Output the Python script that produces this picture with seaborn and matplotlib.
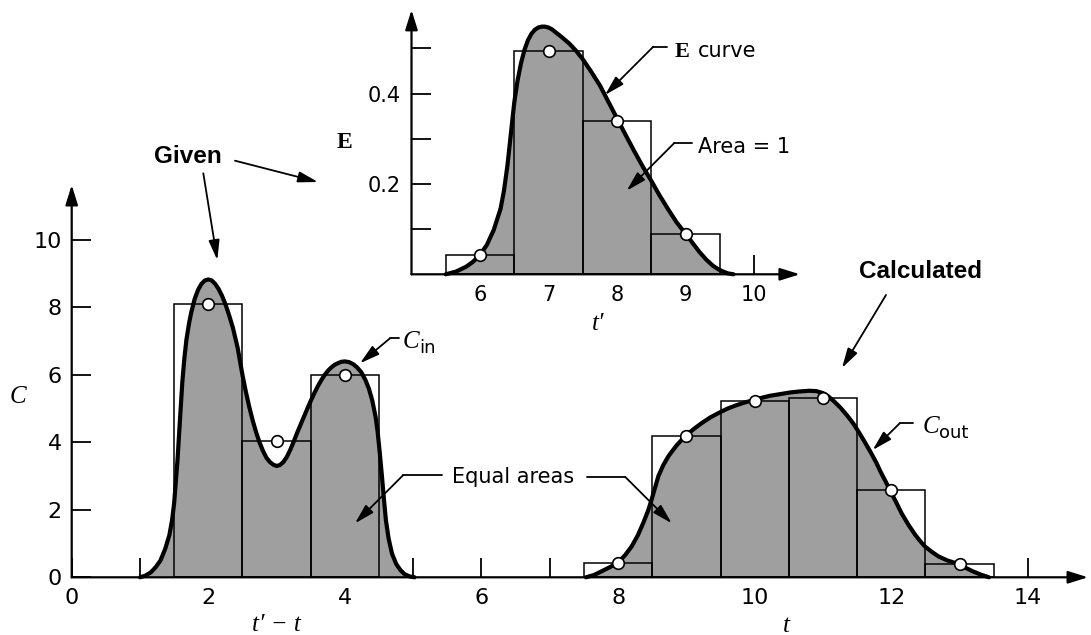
import matplotlib
matplotlib.use("Agg")
import matplotlib.pyplot as plt
import seaborn as sns
from matplotlib.lines import Line2D
from matplotlib.patches import FancyArrowPatch
from matplotlib import font_manager as fm

# ---------------- data ----------------
cin_t = [2, 3, 4]
cin_vals = [8.1, 4.05, 6.0]
e_t = [6, 7, 8, 9]
e_vals = [0.043, 0.494, 0.340, 0.089]
cout_t = [8, 9, 10, 11, 12, 13]
cout_vals = [0.42, 4.2, 5.22, 5.32, 2.58, 0.40]

cin_curve_x = [1.0, 1.08, 1.16, 1.23, 1.3, 1.37, 1.43, 1.47, 1.5, 1.55, 1.58, 1.62, 1.65,
               1.68, 1.72, 1.75, 1.8, 1.85, 1.9, 1.95, 2.0, 2.05, 2.1, 2.15, 2.2, 2.25,
               2.3, 2.36, 2.43, 2.5, 2.55, 2.6, 2.65, 2.7, 2.75, 2.8, 2.85, 2.9, 2.95,
               3.0, 3.05, 3.1, 3.15, 3.2, 3.25, 3.3, 3.35, 3.4, 3.45, 3.5, 3.55, 3.6,
               3.65, 3.7, 3.75, 3.8, 3.85, 3.9, 3.95, 4.0, 4.06, 4.12, 4.18, 4.24, 4.3,
               4.35, 4.4, 4.45, 4.48, 4.51, 4.54, 4.57, 4.6, 4.64, 4.69, 4.75, 4.81,
               4.87, 4.94, 5.02]
cin_curve_y = [0.0, 0.05, 0.15, 0.3, 0.5, 0.85, 1.25, 1.7, 2.2, 3.5, 4.5, 5.8, 6.5,
               7.05, 7.55, 7.85, 8.25, 8.52, 8.7, 8.8, 8.83, 8.8, 8.7, 8.55, 8.35, 8.1,
               7.8, 7.4, 6.8, 6.0, 5.5, 5.05, 4.65, 4.3, 4.0, 3.75, 3.55, 3.42, 3.34,
               3.3, 3.33, 3.42, 3.57, 3.78, 4.02, 4.28, 4.52, 4.76, 5.0, 5.23, 5.45, 5.65,
               5.83, 5.99, 6.12, 6.22, 6.3, 6.35, 6.39, 6.4, 6.38, 6.32, 6.22, 6.08,
               5.85, 5.6, 5.25, 4.75, 4.3, 3.7, 3.05, 2.35, 1.7, 1.15, 0.7, 0.4, 0.22,
               0.1, 0.03, 0.0]

e_curve_x = [5.5, 5.65, 5.8, 5.9, 6.0, 6.1, 6.2, 6.3, 6.35, 6.4, 6.45, 6.5, 6.55, 6.6,
             6.65, 6.7, 6.75, 6.8, 6.85, 6.9, 6.95, 7.0, 7.05, 7.1, 7.2, 7.3, 7.4, 7.5,
             7.62, 7.75, 7.87, 8.0, 8.12, 8.25, 8.37, 8.5, 8.62, 8.75, 8.87, 9.0, 9.1,
             9.2, 9.3, 9.4, 9.48, 9.55, 9.62, 9.7]
e_curve_y = [0.0, 0.006, 0.017, 0.028, 0.043, 0.065, 0.098, 0.145, 0.185, 0.24, 0.31,
             0.38, 0.43, 0.468, 0.497, 0.518, 0.532, 0.541, 0.546, 0.548, 0.548, 0.546,
             0.542, 0.536, 0.524, 0.511, 0.495, 0.476, 0.449, 0.418, 0.383, 0.345, 0.31,
             0.273, 0.24, 0.207, 0.175, 0.143, 0.115, 0.09, 0.07, 0.05, 0.033, 0.019,
             0.011, 0.006, 0.002, 0.0]

cout_curve_x = [7.53, 7.65, 7.75, 7.88, 8.0, 8.1, 8.2, 8.29, 8.37, 8.44, 8.49, 8.54,
                8.59, 8.66, 8.74, 8.86, 8.99, 9.11, 9.23, 9.35, 9.48, 9.6, 9.73, 9.85,
                9.98, 10.1, 10.22, 10.37, 10.52, 10.66, 10.8, 10.9, 11.0, 11.08, 11.16,
                11.26, 11.36, 11.44, 11.51, 11.6, 11.7, 11.78, 11.85, 11.92, 11.98,
                12.07, 12.15, 12.25, 12.35, 12.42, 12.49, 12.59, 12.69, 12.82, 12.96,
                13.07, 13.19, 13.31, 13.43]
cout_curve_y = [0.0, 0.07, 0.17, 0.3, 0.44, 0.65, 0.92, 1.25, 1.62, 1.98, 2.3, 2.65,
                3.0, 3.32, 3.6, 3.92, 4.2, 4.4, 4.58, 4.74, 4.88, 5.0, 5.1, 5.18,
                5.25, 5.32, 5.38, 5.43, 5.48, 5.51, 5.53, 5.52, 5.46, 5.36, 5.22,
                5.02, 4.78, 4.57, 4.35, 4.05, 3.7, 3.4, 3.1, 2.83, 2.58,
                2.23, 1.9, 1.56, 1.26, 1.08, 0.92, 0.76, 0.62, 0.5, 0.41,
                0.3, 0.18, 0.08, 0.0]

main_xticks = [0, 2, 4, 6, 8, 10, 12, 14]
main_xminor = [1, 3, 5, 7, 9, 11, 13]
main_yticks = [0, 2, 4, 6, 8, 10]
inset_xticks = [6, 7, 8, 9, 10]
inset_yticks = [0.1, 0.2, 0.3, 0.4, 0.5]
inset_ylabels = ["", "0.2", "", "0.4", ""]

# ---------------- style ----------------
sns.set_theme(style="white")
plt.rcParams["font.family"] = ["DejaVu Sans"]
plt.rcParams["text.color"] = "black"
plt.rcParams["axes.labelcolor"] = "black"
plt.rcParams["xtick.color"] = "black"
plt.rcParams["ytick.color"] = "black"

W, H = 1091, 635
FILL = "#9f9f9f"
SERIF = ["Liberation Serif", "DejaVu Serif"]

names = {f.name for f in fm.fontManager.ttflist}
if "Liberation Sans Narrow" in names:
    NARROW, NSIZE = "Liberation Sans Narrow", 20.5
else:
    NARROW, NSIZE = "Liberation Sans", 17.5

fig = plt.figure(figsize=(W / 100, H / 100), dpi=100)


def fx(x, y):
    return (x / W, 1 - y / H)


def axis_arrows(ax):
    for s in ax.spines.values():
        s.set_visible(False)
    style = "-|>,head_length=0.8,head_width=0.25"
    ax.annotate("", xy=(1, 0), xytext=(0, 0), xycoords="axes fraction",
                arrowprops=dict(arrowstyle=style, color="black", lw=1.6,
                                shrinkA=0, shrinkB=0, mutation_scale=15))
    ax.annotate("", xy=(0, 1), xytext=(0, 0), xycoords="axes fraction",
                arrowprops=dict(arrowstyle=style, color="black", lw=1.6,
                                shrinkA=0, shrinkB=0, mutation_scale=15))


def draw_series(ax, cx, cy, bt, bv):
    ax.fill_between(cx, cy, 0, color=FILL, lw=0, zorder=1)
    ax.bar(bt, bv, width=1.0, fill=False, edgecolor="black", linewidth=1.1, zorder=2)
    sns.lineplot(x=cx, y=cy, ax=ax, color="black", lw=3.0, zorder=3,
                 clip_on=False, solid_capstyle="round", solid_joinstyle="round")
    sns.scatterplot(x=bt, y=bv, ax=ax, s=70, color="white", edgecolor="black",
                    linewidth=1.2, zorder=4, clip_on=False)


# ---------------- main axes ----------------
ax = fig.add_axes([71.7 / W, (H - 577.3) / H, 1016.3 / W, 392.3 / H])
ax.patch.set_alpha(0)
draw_series(ax, cin_curve_x, cin_curve_y, cin_t, cin_vals)
draw_series(ax, cout_curve_x, cout_curve_y, cout_t, cout_vals)
ax.set_xlim(0, 14.88)
ax.set_ylim(0, 11.63)
ax.set_xticks(main_xticks)
ax.set_xticks(main_xminor, minor=True)
ax.set_yticks(main_yticks)
ax.tick_params(axis="both", which="both", direction="in", length=13.7, width=1.3,
               bottom=True, left=True, colors="black")
ax.tick_params(axis="x", which="major", pad=8, labelsize=16)
ax.tick_params(axis="y", which="major", pad=7, labelsize=16)
ax.set_xlabel("")
ax.set_ylabel("")
axis_arrows(ax)

# ---------------- inset axes ----------------
ins = fig.add_axes([411.5 / W, (H - 274.3) / H, 388.4 / W, 264.4 / H])
ins.patch.set_alpha(0)
draw_series(ins, e_curve_x, e_curve_y, e_t, e_vals)
ins.set_xlim(5, 10.67)
ins.set_ylim(0, 0.585)
ins.set_xticks(inset_xticks)
ins.set_yticks(inset_yticks)
ins.set_yticklabels(inset_ylabels)
ins.tick_params(axis="both", which="both", direction="in", length=13.5, width=1.3,
                bottom=True, left=True, colors="black", labelsize=15)
ins.tick_params(axis="x", pad=7.7)
ins.tick_params(axis="y", pad=8)
ins.set_xlabel("")
ins.set_ylabel("")
axis_arrows(ins)

# ---------------- texts ----------------
def txt(x, y, s, **kw):
    kw.setdefault("ha", "left")
    kw.setdefault("va", "baseline")
    kw.setdefault("color", "black")
    fig.text(*fx(x, y), s, **kw)


txt(18, 403, "C", family=SERIF, style="italic", fontsize=18, ha="center")
txt(276.7, 631, "t\u2032 \u2212 t", family=SERIF, style="italic", fontsize=18, ha="center")
txt(786.5, 632, "t", family=SERIF, style="italic", fontsize=18, ha="center")
txt(598, 330, "t\u2032", family=SERIF, style="italic", fontsize=18, ha="center")
txt(344, 148.3, "E", family=SERIF, weight="bold", fontsize=17, ha="center")

txt(188, 163, "Given", family=[NARROW, "DejaVu Sans"], weight="bold", fontsize=NSIZE, ha="center")
txt(920.7, 278, "Calculated", family=[NARROW, "DejaVu Sans"], weight="bold", fontsize=NSIZE,
    ha="center")

txt(675, 57, "E", family=SERIF, weight="bold", fontsize=16)
txt(698, 57, "curve", fontsize=15)
txt(698, 153.3, "Area = 1", fontsize=15)
txt(451.7, 483.3, "Equal areas", fontsize=15)
txt(403, 348.3, "C", family=SERIF, style="italic", fontsize=18)
txt(419, 353.3, "in", fontsize=13)
txt(923, 432.6, "C", family=SERIF, style="italic", fontsize=18)
txt(938.6, 438.3, "out", fontsize=13)

# ---------------- leaders and arrows ----------------
arrows = [
    ((203.3, 173.3), (217.3, 260)),
    ((235, 160.7), (318, 182)),
    ((886, 295), (842, 368)),
    ((653.3, 46.7), (605, 95)),
    ((674, 143.3), (626.7, 190.7)),
    ((390, 338.3), (360, 363.3)),
    ((899.7, 423.3), (872.7, 450)),
    ((403.3, 475), (355, 523.3)),
    ((625, 476.7), (671.7, 523.3)),
]
leaders = [
    ((653.3, 46.7), (667.3, 46.7)),
    ((674, 143.3), (691.7, 143.3)),
    ((390, 338.3), (399.3, 338.3)),
    ((899.7, 423.3), (913.2, 423.3)),
    ((403.3, 475), (441.7, 475)),
    ((586.7, 476.7), (625, 476.7)),
]
for a, b in arrows:
    fig.add_artist(FancyArrowPatch(fx(*a), fx(*b), transform=fig.transFigure,
                                   arrowstyle="-|>,head_length=0.8,head_width=0.22",
                                   mutation_scale=15, lw=1.3, color="black",
                                   shrinkA=0, shrinkB=0, zorder=10))
for a, b in leaders:
    p, q = fx(*a), fx(*b)
    fig.add_artist(Line2D([p[0], q[0]], [p[1], q[1]], transform=fig.transFigure,
                          color="black", lw=1.3, zorder=10))

fig.savefig("out.png", dpi=100)
